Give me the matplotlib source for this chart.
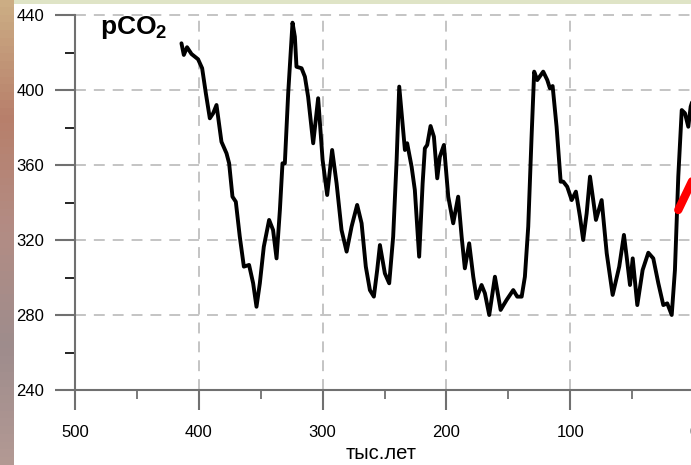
import numpy as np
import matplotlib
matplotlib.use("Agg")
import matplotlib.pyplot as plt
from matplotlib.patches import Rectangle

plt.rcParams['font.family'] = ['Liberation Sans', 'DejaVu Sans']
plt.rcParams['mathtext.fontset'] = 'custom'
plt.rcParams['mathtext.bf'] = 'Liberation Sans:bold'
plt.rcParams['mathtext.rm'] = 'Liberation Sans'

# Vostok ice-core CO2 record: age (thousand years ago) and pCO2 (ppmv)
age_ka = [
    414.0, 412.1, 409.5, 405.9, 400.6, 397.3, 394.3, 391.1, 388.4, 385.7,
    381.7, 377.6, 375.5, 372.8, 370.1, 366.9, 363.6, 359.4, 356.1, 353.4,
    350.7, 347.5, 343.2, 340.0, 337.2, 334.5, 332.4, 330.5, 327.8, 324.3,
    322.4, 321.1, 317.0, 314.3, 311.7, 307.6, 303.6, 300.0, 296.3, 292.3,
    288.7, 284.7, 280.6, 276.6, 272.1, 268.5, 265.1, 261.8, 258.6, 255.9,
    253.7, 249.7, 246.2, 243.0, 240.2, 238.1, 235.4, 233.5, 231.7, 228.1,
    225.5, 222.0, 219.2, 217.4, 215.5, 212.8, 210.1, 207.4, 205.3, 202.0,
    198.5, 194.5, 190.5, 187.7, 185.1, 181.6, 178.3, 175.6, 171.6, 168.9,
    165.4, 160.8, 156.2, 151.4, 146.0, 142.8, 139.2, 136.6, 133.9, 131.2,
    129.1, 126.6, 121.8, 118.5, 116.4, 114.2, 111.0, 107.7, 105.6, 102.4,
    98.8, 95.4, 92.1, 89.5, 86.7, 84.0, 79.2, 74.6, 70.5, 65.7,
    60.4, 56.6, 54.4, 51.7, 49.5, 45.8, 41.5, 36.9, 32.9, 28.8,
    24.8, 21.6, 18.0, 15.4, 12.7, 9.9, 7.3, 4.6, 2.7, 1.0,
]
pco2 = [
    424.9, 418.7, 422.8, 419.2, 416.4, 411.6, 398.2, 384.9, 387.6, 392.0,
    372.4, 366.2, 360.9, 343.1, 340.4, 321.8, 305.8, 306.7, 296.9, 284.4,
    296.9, 316.4, 330.7, 325.3, 310.2, 336.0, 360.9, 360.9, 398.2, 435.9,
    428.4, 412.4, 411.6, 407.1, 396.4, 371.6, 395.6, 362.7, 344.0, 368.0,
    350.2, 325.3, 313.8, 327.1, 338.7, 328.9, 305.8, 293.3, 289.8, 304.0,
    317.3, 302.2, 296.9, 321.8, 362.7, 401.8, 382.2, 368.0, 371.6, 359.1,
    346.7, 311.1, 350.2, 368.9, 370.7, 380.8, 375.1, 352.9, 364.4, 370.7,
    343.1, 328.9, 343.1, 321.8, 304.9, 318.2, 300.4, 288.9, 296.0, 291.6,
    280.0, 300.4, 282.7, 288.0, 293.3, 289.8, 289.8, 300.4, 327.1, 375.1,
    409.8, 405.3, 409.8, 405.3, 400.9, 402.1, 380.4, 351.1, 351.1, 348.4,
    341.3, 345.8, 332.4, 320.0, 334.2, 353.8, 330.7, 341.3, 312.9, 290.7,
    305.8, 322.7, 311.1, 296.0, 310.2, 285.3, 304.0, 313.2, 310.2, 296.9,
    285.3, 286.2, 280.0, 304.0, 353.8, 389.3, 387.6, 380.4, 391.1, 394.7,
]

# Recent rise (red segment)
recent_age = [12.7, 0.0]
recent_pco2 = [336.0, 353.5]

x_ticks = [500, 400, 300, 200, 100, 0]
y_ticks = [240, 280, 320, 360, 400, 440]
x_label = "тыс.лет"

W, H = 691, 465
fig = plt.figure(figsize=(W / 100, H / 100), dpi=100, facecolor="white")

# Photo-like frame strips around the white panel
strip = fig.add_axes([0, 0, 14 / W, 1])
grad = np.linspace(0, 1, 60)[:, None]
cols = np.array([[0.80, 0.68, 0.52], [0.72, 0.50, 0.42], [0.70, 0.55, 0.52],
                 [0.62, 0.55, 0.55], [0.70, 0.60, 0.58]])
pos = np.linspace(0, 1, len(cols))
img = np.stack([np.interp(grad[:, 0], pos, cols[:, c]) for c in range(3)], axis=-1)[:, None, :]
strip.imshow(img, aspect="auto", extent=[0, 1, 0, 1], origin="upper")
strip.set_axis_off()
fig.patches.append(Rectangle((14 / W, 1 - 4 / H), 1, 4 / H, transform=fig.transFigure,
                             facecolor="#dfe4c6", edgecolor="none", zorder=0))

ax = fig.add_axes([75 / W, 1 - 390 / H, (694 - 75) / W, 375 / H])
ax.set_facecolor("white")
ax.set_xlim(500, 0)
ax.set_ylim(240, 440)

axis_grey = "#707070"
grid_grey = "#c4c4c4"

for spine in ("top", "right"):
    ax.spines[spine].set_visible(False)
for spine in ("left", "bottom"):
    ax.spines[spine].set_color(axis_grey)
    ax.spines[spine].set_linewidth(1.5)

ax.set_xticks(x_ticks)
ax.set_xticklabels([str(t) for t in x_ticks])
ax.set_yticks(y_ticks)
ax.set_yticklabels([str(t) for t in y_ticks])
ax.set_xticks([450, 350, 250, 150, 50], minor=True)
ax.set_yticks([260, 300, 340, 380, 420], minor=True)

ax.tick_params(axis="both", which="major", direction="out", length=14.5, width=1.5,
               color=axis_grey, labelsize=12, labelcolor="black")
ax.tick_params(axis="x", which="major", pad=10.5)
ax.tick_params(axis="y", which="major", pad=7.5)
ax.tick_params(axis="x", which="minor", direction="out", length=6.5, width=1.3, color=axis_grey)
ax.tick_params(axis="y", which="minor", direction="out", length=7, width=1.2, color="black")

for v in [400, 300, 200, 100]:
    ax.axvline(v, color=grid_grey, lw=1.4, ls=(0, (5.6, 4.1)), zorder=1)
for v in [280, 320, 360, 400, 440]:
    ax.axhline(v, color=grid_grey, lw=1.4, ls=(0, (5.6, 4.1)), zorder=1, clip_on=False)

ax.plot(age_ka, pco2, color="black", lw=2.8, solid_joinstyle="round",
        solid_capstyle="round", zorder=3)
ax.plot(recent_age, recent_pco2, color="#ff0000", lw=6, solid_capstyle="round", zorder=4)

ax.set_xlabel(x_label, fontsize=14.5, labelpad=0)
ax.xaxis.set_label_coords(0.494, -0.143)

fig.text(100 / W, 1 - 34 / H, r"$\mathbf{pCO_2}$", fontsize=19, ha="left", va="baseline")

fig.savefig("out.png", dpi=100, facecolor=fig.get_facecolor())
